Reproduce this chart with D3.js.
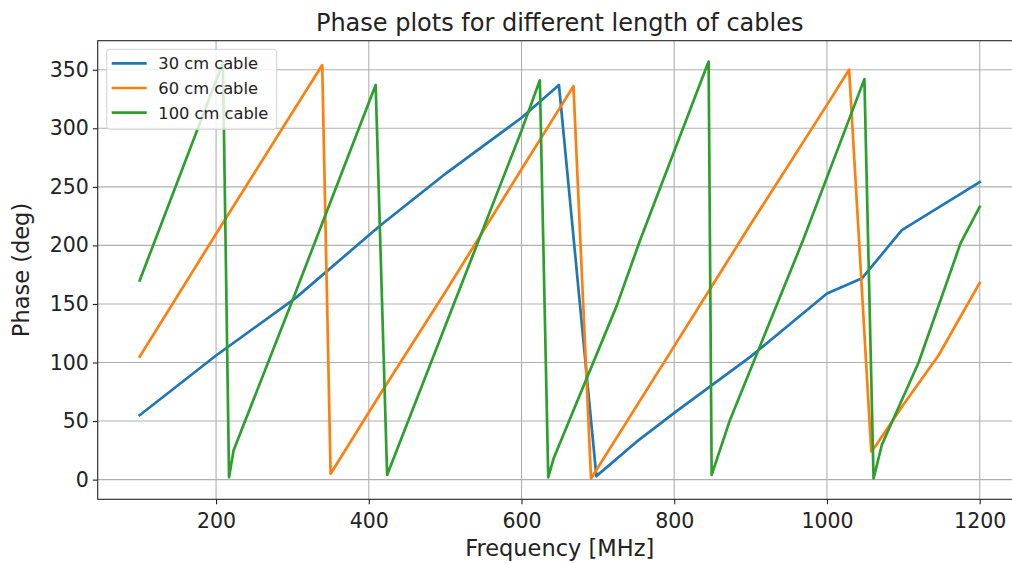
<!DOCTYPE html>
<html>
<head>
<meta charset="utf-8">
<script src="https://cdn.jsdelivr.net/npm/d3@7"></script>
<style>
  html, body { margin: 0; padding: 0; background: #fff; overflow: hidden; }
  svg { display: block; font-family: "DejaVu Sans", sans-serif; }
</style>
</head>
<body>
<svg id="chart" width="1012" height="563"></svg>
<script>
// Measured phase (deg) vs frequency (MHz) for each cable length
const freq30  = [100, 200, 304, 415, 502, 600, 649, 698, 750, 800, 900, 1000, 1046, 1098, 1200];
const phase30 = [55, 106, 155, 217, 262, 309, 337, 3, 32, 57, 105, 159, 172, 213, 254];

const freq60  = [100, 203, 339, 350, 414, 500, 600, 668, 691, 800, 851, 900, 1000, 1029, 1058, 1063, 1100, 1146, 1200];
const phase60 = [105, 213, 354, 5, 72, 160, 265, 336, 1, 114, 167, 218, 320, 350, 24, 28, 64, 106, 168];

const freq100  = [100, 209, 217, 223, 300, 409, 424, 500, 600, 624, 635, 642, 725, 755, 845, 849, 873, 969, 1049, 1061, 1072, 1120, 1175, 1200];
const phase100 = [170, 356, 2, 25, 153, 337, 4, 131, 298, 341, 2, 18, 149, 204, 357, 4, 51, 205, 342, 1, 30, 100, 202, 233];

const seriesNames = ["30 cm cable", "60 cm cable", "100 cm cable"];
const seriesColors = ["#1f77b4", "#ff7f0e", "#2ca02c"];

const xTicks = [200, 400, 600, 800, 1000, 1200];
const yTicks = [0, 50, 100, 150, 200, 250, 300, 350];

const titleText = "Phase plots for different length of cables";
const xLabelText = "Frequency [MHz]";
const yLabelText = "Phase (deg)";

const series = [
  { name: seriesNames[0], color: seriesColors[0], pts: freq30.map((f, i) => [f, phase30[i]]) },
  { name: seriesNames[1], color: seriesColors[1], pts: freq60.map((f, i) => [f, phase60[i]]) },
  { name: seriesNames[2], color: seriesColors[2], pts: freq100.map((f, i) => [f, phase100[i]]) }
];

const svg = d3.select("#chart");
const plot = { left: 97.7, right: 1021.7, top: 40.7, bottom: 499.3 };

// Axis limits padded 5% beyond the data, like matplotlib's autoscale
const allF = series.flatMap(s => s.pts.map(p => p[0]));
const allP = series.flatMap(s => s.pts.map(p => p[1]));
const fMin = d3.min(allF), fMax = d3.max(allF);
const pMin = d3.min(allP), pMax = d3.max(allP);
const fPad = (fMax - fMin) * 0.05, pPad = (pMax - pMin) * 0.05;

const x = d3.scaleLinear().domain([fMin - fPad, fMax + fPad]).range([plot.left, plot.right]);
const y = d3.scaleLinear().domain([pMin - pPad, pMax + pPad]).range([plot.bottom, plot.top]);

svg.append("rect").attr("width", 1012).attr("height", 563).attr("fill", "#fff");

svg.append("defs").append("clipPath").attr("id", "plotClip")
  .append("rect")
  .attr("x", plot.left).attr("y", plot.top)
  .attr("width", plot.right - plot.left).attr("height", plot.bottom - plot.top);

// Grid
const grid = svg.append("g").attr("stroke", "#b0b0b0").attr("stroke-width", 1.1);
grid.selectAll("line.gx").data(xTicks).join("line")
  .attr("x1", d => x(d)).attr("x2", d => x(d))
  .attr("y1", plot.top).attr("y2", plot.bottom);
grid.selectAll("line.gy").data(yTicks).join("line")
  .attr("y1", d => y(d)).attr("y2", d => y(d))
  .attr("x1", plot.left).attr("x2", plot.right);

// Lines
const line = d3.line().x(p => x(p[0])).y(p => y(p[1]));
svg.append("g").attr("clip-path", "url(#plotClip)")
  .selectAll("path").data(series).join("path")
  .attr("d", s => line(s.pts))
  .attr("fill", "none")
  .attr("stroke", s => s.color)
  .attr("stroke-width", 2.7)
  .attr("stroke-linejoin", "round")
  .attr("stroke-linecap", "square");

// Axes
const xAxis = d3.axisBottom(x).tickValues(xTicks).tickSize(4.9).tickPadding(4).tickFormat(d3.format("d"));
const yAxis = d3.axisLeft(y).tickValues(yTicks).tickSize(4.9).tickPadding(4).tickFormat(d3.format("d"));

const gx = svg.append("g").attr("transform", `translate(0,${plot.bottom})`).call(xAxis);
const gy = svg.append("g").attr("transform", `translate(${plot.left},0)`).call(yAxis);
[gx, gy].forEach(g => {
  g.select(".domain").remove();
  g.selectAll(".tick line").attr("stroke", "#222").attr("stroke-width", 1.1);
  g.selectAll(".tick text").attr("fill", "#222").style("font-size", "20.5px")
    .style("font-family", "DejaVu Sans, sans-serif");
});
gx.selectAll(".tick text").attr("dy", "0.95em");

// Spines
svg.append("rect")
  .attr("x", plot.left).attr("y", plot.top)
  .attr("width", plot.right - plot.left).attr("height", plot.bottom - plot.top)
  .attr("fill", "none").attr("stroke", "#222").attr("stroke-width", 1.1);

// Titles
svg.append("text").attr("x", (plot.left + plot.right) / 2).attr("y", 31)
  .attr("text-anchor", "middle").attr("fill", "#222").style("font-size", "24px")
  .text(titleText);
svg.append("text").attr("x", (plot.left + plot.right) / 2).attr("y", 556)
  .attr("text-anchor", "middle").attr("fill", "#222").style("font-size", "22.5px")
  .text(xLabelText);
svg.append("text")
  .attr("transform", `translate(29,${(plot.top + plot.bottom) / 2}) rotate(-90)`)
  .attr("text-anchor", "middle").attr("fill", "#222").style("font-size", "22.5px")
  .text(yLabelText);

// Legend
const leg = svg.append("g");
leg.append("rect")
  .attr("x", 106.7).attr("y", 49.3).attr("width", 170).attr("height", 80)
  .attr("rx", 3).attr("fill", "#fff").attr("fill-opacity", 0.8)
  .attr("stroke", "#d0d0d0").attr("stroke-width", 1);
const rowY = [63.3, 88, 112.7];
series.forEach((s, i) => {
  leg.append("line")
    .attr("x1", 111.7).attr("x2", 146.7).attr("y1", rowY[i]).attr("y2", rowY[i])
    .attr("stroke", s.color).attr("stroke-width", 2.7);
  leg.append("text")
    .attr("x", 158.3).attr("y", rowY[i]).attr("dy", "0.36em")
    .attr("fill", "#222").style("font-size", "16.3px")
    .text(s.name);
});
</script>
</body>
</html>
